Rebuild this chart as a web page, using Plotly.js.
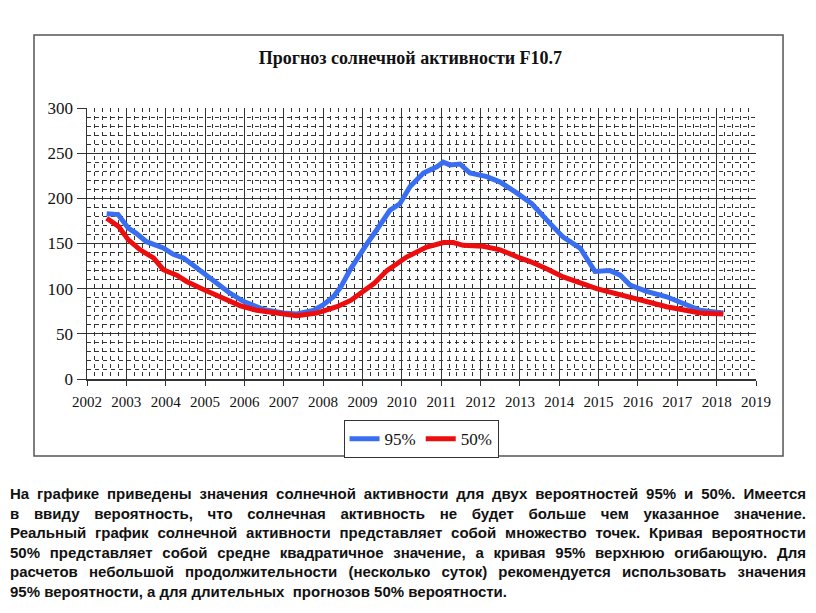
<!DOCTYPE html>
<html>
<head>
<meta charset="utf-8">
<script src="https://cdn.plot.ly/plotly-3.0.1.min.js"></script>
<style>
  body { margin: 0; background: #fff; }
  #chart { position: absolute; left: 0; top: 0; width: 816px; height: 470px; }
  #note {
    position: absolute; left: 10px; top: 484px; width: 796px;
    font-family: "Liberation Sans", Arial, sans-serif; font-weight: bold;
    font-size: 15px; line-height: 19.6px; color: #111;
  }
  #note div { text-align: justify; text-align-last: justify; white-space: nowrap; }
  #note div.last { text-align-last: left; }
</style>
</head>
<body>
<div id="chart"></div>
<div id="note">
  <div>На графике приведены значения солнечной активности для двух вероятностей 95% и 50%. Имеется</div>
  <div>в ввиду вероятность, что солнечная активность не будет больше чем указанное значение.</div>
  <div>Реальный график солнечной активности представляет собой множество точек. Кривая вероятности</div>
  <div>50% представляет собой средне квадратичное значение, а кривая 95% верхнюю огибающую. Для</div>
  <div>расчетов небольшой продолжительности (несколько суток) рекомендуется использовать значения</div>
  <div class="last">95% вероятности, а для длительных &nbsp;прогнозов 50% вероятности.</div>
</div>
<script>
// 95% curve (upper envelope)
var yrs95 = [2002.50, 2002.79, 2003.05, 2003.26, 2003.51, 2003.77, 2003.94, 2004.19, 2004.45, 2004.70,
  2004.96, 2005.29, 2005.60, 2005.97, 2006.48, 2006.99, 2007.33, 2007.75, 2008.00, 2008.26,
  2008.45, 2008.70, 2008.94, 2009.15, 2009.36, 2009.70, 2009.95, 2010.21, 2010.55, 2010.89,
  2011.05, 2011.22, 2011.48, 2011.73, 2012.16, 2012.50, 2012.92, 2013.30, 2013.77, 2014.10,
  2014.53, 2014.91, 2015.29, 2015.55, 2015.80, 2016.22, 2016.73, 2017.24, 2017.58, 2018.17];
var f95 = [183, 182, 167, 161, 152, 148, 145, 138, 134, 126,
  117, 106, 96, 86, 77, 73, 72, 76, 82, 91,
  102, 122, 139, 152, 165, 187, 194, 213, 228, 235,
  240, 237, 238, 228, 224, 218, 206, 194, 172, 157,
  145, 119, 120, 115, 104, 97, 91, 82, 76, 73];

// 50% curve (mean)
var yrs50 = [2002.50, 2002.80, 2003.05, 2003.35, 2003.69, 2003.94, 2004.28, 2004.53, 2004.96, 2005.46,
  2005.90, 2006.31, 2006.90, 2007.33, 2007.84, 2008.35, 2008.70, 2009.02, 2009.30, 2009.62,
  2010.12, 2010.63, 2011.06, 2011.31, 2011.56, 2012.07, 2012.50, 2013.00, 2013.26, 2013.68,
  2014.10, 2014.95, 2015.80, 2016.73, 2017.58, 2018.17];
var f50 = [178, 169, 154, 143, 134, 121, 115, 108, 99, 89,
  81, 76, 72, 70, 73, 80, 87, 97, 106, 120,
  135, 146, 151, 151, 148, 147, 143, 134, 130, 122,
  113, 100, 91, 80, 73, 72];

var serif = '"Liberation Serif", "Times New Roman", serif';

var trace1 = {
  x: yrs95, y: f95,
  type: 'scatter', mode: 'lines',
  name: '95%',
  line: { color: 'rgb(58,110,240)', width: 5 },
};
var trace2 = {
  x: yrs50, y: f50,
  type: 'scatter', mode: 'lines',
  name: '50%',
  line: { color: 'rgb(236,14,14)', width: 5 },
};

var gridDash = { showgrid: true, gridcolor: '#333', griddash: '4px,4px', gridwidth: 1 };

var layout = {
  width: 816, height: 470,
  margin: { l: 87, r: 60, t: 108, b: 91 },
  paper_bgcolor: '#fff', plot_bgcolor: '#fff',
  showlegend: true,
  title: {
    text: '<b>Прогноз солнечной активности F10.7</b>',
    font: { family: serif, size: 18, color: '#111' },
    x: 0.503, xref: 'container', xanchor: 'center',
    y: 0.877, yref: 'container', yanchor: 'middle'
  },
  font: { family: serif, size: 15, color: '#111' },
  xaxis: {
    range: [2002, 2019], dtick: 1, tick0: 2002,
    showgrid: true, gridcolor: '#333', gridwidth: 1,
    showline: true, linecolor: '#333', linewidth: 1.5,
    ticks: 'outside', ticklen: 5, tickcolor: '#333',
    ticklabelstandoff: 3,
    tickfont: { family: serif, size: 15, color: '#111' },
    zeroline: false, fixedrange: true, automargin: false,
    minor: Object.assign({ dtick: 0.2, tick0: 2002 }, gridDash),
  },
  yaxis: {
    range: [0, 300], dtick: 50,
    showgrid: true, gridcolor: '#333', gridwidth: 1,
    showline: true, linecolor: '#333', linewidth: 1.5,
    ticks: 'outside', ticklen: 9, tickcolor: '#333',
    tickfont: { family: serif, size: 17, color: '#111' },
    zeroline: false, fixedrange: true, automargin: false,
    minor: Object.assign({ dtick: 10 }, gridDash),
  },
  legend: {
    orientation: 'h',
    x: 0.516, xref: 'container', xanchor: 'center',
    y: 0.106, yref: 'container', yanchor: 'top',
    bordercolor: '#333', borderwidth: 1,
    font: { family: serif, size: 17, color: '#111' },
  },
  shapes: [{
    type: 'rect', xref: 'paper', yref: 'paper',
    x0: -0.0792, x1: 1.0404, y0: -0.2841, y1: 1.2694,
    line: { color: '#555', width: 1.5 }, layer: 'below'
  }],
};

Plotly.newPlot('chart', [trace1, trace2], layout, { staticPlot: true });
</script>
</body>
</html>
